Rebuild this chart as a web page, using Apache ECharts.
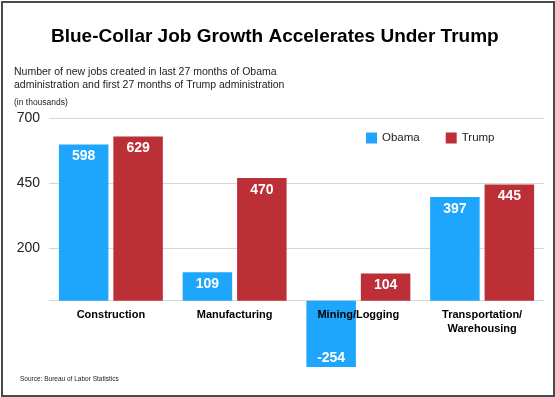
<!DOCTYPE html>
<html>
<head>
<meta charset="utf-8">
<script src="https://cdn.jsdelivr.net/npm/echarts@6/dist/echarts.min.js"></script>
<style>
html, body { margin: 0; padding: 0; background: #fff; }
#frame { position: absolute; left: 1px; top: 1px; width: 550px; height: 392px; border: 2px solid #4a4a4a; }
#main { position: absolute; left: 0; top: 0; width: 555px; height: 397px; }
</style>
</head>
<body>
<div id="frame"></div>
<div id="main"></div>
<script>
var categories = ['Construction', 'Manufacturing', 'Mining/Logging', 'Transportation/\nWarehousing'];
var obama = [598, 109, -254, 397];
var trump = [629, 470, 104, 445];
var gridValues = [0, 200, 450, 700];
var tickLabels = [200, 450, 700];

var font = '"Liberation Sans", Arial, Helvetica, sans-serif';
var myChart = echarts.init(document.getElementById('main'));

var valueLabel = {
	show: true,
	position: 'insideTop',
	distance: 5,
	color: '#fff',
	fontFamily: font,
	fontWeight: 'bold',
	fontSize: 14
};

function barData(arr) {
	return arr.map(function(v) {
		if (v < 0) {
			return { value: v, label: { position: 'insideBottom', distance: 2 } };
		}
		return v;
	});
}

var option = {
	animation: false,
	textStyle: { fontFamily: font },
	title: [
		{
			text: 'Blue-Collar Job Growth Accelerates Under Trump',
			left: 46, top: 22,
			textStyle: { fontFamily: font, fontSize: 19, fontWeight: 'bold', color: '#000' }
		},
		{
			text: 'Number of new jobs created in last 27 months of Obama\nadministration and first 27 months of Trump administration',
			left: 9, top: 61,
			textStyle: { fontFamily: font, fontSize: 10.5, fontWeight: 'normal', color: '#222', lineHeight: 12.5 }
		},
		{
			text: '(in thousands)',
			left: 9, top: 93,
			textStyle: { fontFamily: font, fontSize: 8.5, fontWeight: 'normal', color: '#222' }
		},
		{
			text: 'Source: Bureau of Labor Statistics',
			left: 15, top: 371,
			textStyle: { fontFamily: font, fontSize: 6.5, fontWeight: 'normal', color: '#222' }
		}
	],
	legend: {
		data: ['Obama', 'Trump'],
		left: 361, top: 127,
		icon: 'rect',
		itemWidth: 11, itemHeight: 11,
		itemGap: 26,
		textStyle: { fontFamily: font, fontSize: 11.5, color: '#222' }
	},
	grid: [
		// bars
		{ left: 49, right: 11, top: 118, bottom: 18, outerBoundsMode: 'none', containLabel: false },
		// category labels, bottom edge sits on the zero line
		{ left: 49, right: 11, top: 118, bottom: 96, outerBoundsMode: 'none', containLabel: false }
	],
	xAxis: [
		{
			type: 'category', gridIndex: 0, data: categories,
			axisLine: { show: false }, axisTick: { show: false }, axisLabel: { show: false }
		},
		{
			type: 'category', gridIndex: 1, data: categories, z: 10,
			axisLine: { show: false }, axisTick: { show: false },
			axisLabel: {
				margin: 7, color: '#000', fontFamily: font, fontSize: 11, fontWeight: 'bold',
				lineHeight: 14, interval: 0
			}
		}
	],
	yAxis: [
		{
			type: 'value', gridIndex: 0, min: -300, max: 700, interval: 250,
			axisLine: { show: false }, axisTick: { show: false },
			splitLine: { show: false },
			axisLabel: {
				margin: 9, color: '#222', fontFamily: font, fontSize: 14,
				formatter: function(v) { return tickLabels.indexOf(v) >= 0 ? '' + v : ''; }
			}
		},
		{ type: 'value', gridIndex: 1, min: 0, max: 1, show: false }
	],
	series: [
		{
			name: 'Obama', type: 'bar', xAxisIndex: 0, yAxisIndex: 0, z: 2,
			data: barData(obama), barGap: '10%', barCategoryGap: '16%',
			itemStyle: { color: '#1ea5fc' },
			label: valueLabel,
			markLine: {
				silent: true, symbol: 'none', label: { show: false }, z: 1,
				lineStyle: { color: '#d6d6d6', type: 'solid', width: 1 },
				data: gridValues.map(function(v) { return { yAxis: v }; })
			}
		},
		{
			name: 'Trump', type: 'bar', xAxisIndex: 0, yAxisIndex: 0, z: 2,
			data: barData(trump),
			itemStyle: { color: '#bd2f37' },
			label: valueLabel
		}
	]
};
myChart.setOption(option);
</script>
</body>
</html>
